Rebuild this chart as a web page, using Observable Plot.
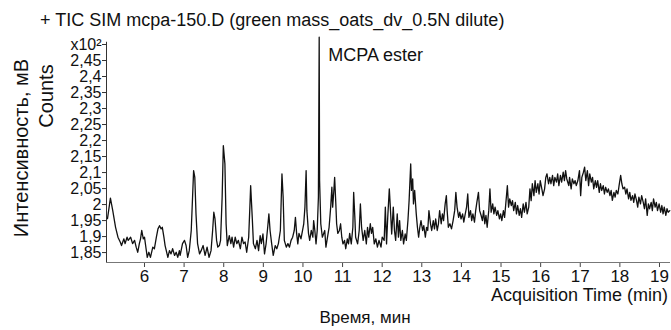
<!DOCTYPE html>
<html>
<head>
<meta charset="utf-8">
<script src="https://cdn.jsdelivr.net/npm/d3@7"></script>
<script src="https://cdn.jsdelivr.net/npm/@observablehq/plot@0.6"></script>
<style>
  html, body { margin: 0; padding: 0; background: #fff; }
  #chart { width: 671px; height: 330px; }
</style>
</head>
<body>
<div id="chart"></div>
<script>
// Acquisition time (min)
const times = [
5.066,5.14,5.20,5.27,5.33,5.39,5.42,5.48,5.51,5.56,5.59,5.65,5.70,5.75,5.79,5.83,5.87,5.90,5.93,5.97,
6.00,6.04,6.07,6.11,6.15,6.21,6.25,6.30,6.34,6.38,6.42,6.45,6.49,6.52,6.55,6.59,6.63,6.67,6.71,6.76,
6.80,6.84,6.88,6.90,6.96,7.01,7.05,7.09,7.13,7.18,7.24,7.27,7.30,7.34,7.39,7.43,7.48,7.53,7.58,7.63,
7.68,7.72,7.75,7.78,7.82,7.85,7.89,7.92,7.96,7.99,8.03,8.06,8.09,8.14,8.18,8.21,8.25,8.29,8.33,8.37,
8.42,8.46,8.50,8.54,8.58,8.63,8.66,8.68,8.72,8.75,8.80,8.84,8.88,8.92,8.95,8.99,9.03,9.07,9.11,9.14,
9.17,9.21,9.25,9.30,9.34,9.38,9.43,9.47,9.50,9.53,9.58,9.62,9.66,9.70,9.74,9.78,9.81,9.84,9.87,9.90,
9.95,9.99,10.02,10.05,10.08,10.10,10.14,10.17,10.21,10.25,10.27,10.30,10.33,10.36,10.39,10.41,10.42,10.45,10.49,10.55,
10.58,10.62,10.66,10.70,10.73,10.75,10.78,10.80,10.83,10.85,10.88,10.92,10.95,10.98,11.01,11.05,11.08,11.12,11.15,11.18,
11.22,11.26,11.28,11.31,11.33,11.38,11.42,11.45,11.48,11.52,11.56,11.60,11.63,11.66,11.70,11.73,11.76,11.80,11.84,11.88,
11.92,11.97,12.00,12.05,12.08,12.11,12.14,12.18,12.21,12.24,12.28,12.31,12.34,12.38,12.41,12.44,12.47,12.51,12.54,12.58,
12.61,12.65,12.68,12.72,12.74,12.77,12.79,12.82,12.86,12.89,12.92,12.95,12.98,13.02,13.05,13.09,13.12,13.15,13.18,13.22,
13.25,13.29,13.32,13.35,13.39,13.42,13.45,13.49,13.52,13.55,13.59,13.62,13.64,13.67,13.71,13.75,13.79,13.83,13.86,13.89,
13.93,13.96,13.99,14.03,14.06,14.09,14.13,14.16,14.19,14.23,14.26,14.29,14.33,14.36,14.39,14.43,14.46,14.50,14.53,14.56,
14.59,14.62,14.65,14.69,14.72,14.75,14.79,14.82,14.85,14.89,14.92,14.96,14.99,15.02,15.06,15.09,15.12,15.16,15.19,15.22,
15.26,15.29,15.32,15.36,15.39,15.42,15.46,15.49,15.52,15.56,15.59,15.63,15.66,15.70,15.73,15.76,15.79,15.83,15.86,15.89,
15.93,15.96,15.99,16.03,16.06,16.10,16.13,16.16,16.20,16.23,16.26,16.30,16.33,16.36,16.40,16.43,16.46,16.50,16.53,16.57,
16.60,16.63,16.66,16.71,16.73,16.77,16.80,16.84,16.87,16.90,16.94,16.98,17.01,17.04,17.08,17.11,17.14,17.18,17.21,17.24,
17.28,17.31,17.34,17.38,17.41,17.44,17.48,17.51,17.54,17.58,17.61,17.64,17.68,17.71,17.75,17.78,17.81,17.85,17.88,17.91,
17.95,17.98,18.02,18.05,18.08,18.12,18.15,18.18,18.22,18.25,18.28,18.32,18.35,18.38,18.42,18.45,18.48,18.52,18.55,18.59,
18.62,18.65,18.69,18.72,18.75,18.79,18.82,18.85,18.89,18.92,18.95,18.99,19.03,19.06,19.09,19.12,19.16,19.19,19.22,19.26
];
// Counts (x10^2)
const counts = [
1.956,2.020,1.980,1.929,1.898,1.882,1.872,1.893,1.878,1.898,1.888,1.898,1.878,1.888,1.867,1.851,1.878,1.893,1.919,1.893,
1.898,1.862,1.835,1.851,1.835,1.867,1.862,1.898,1.924,1.934,1.924,1.929,1.898,1.872,1.856,1.835,1.856,1.846,1.862,1.841,
1.851,1.835,1.856,1.841,1.878,1.888,1.872,1.835,1.856,1.919,2.106,2.085,1.971,1.878,1.846,1.856,1.872,1.841,1.867,1.835,
1.856,1.919,1.976,1.955,1.888,1.867,1.872,1.888,2.023,2.184,2.127,1.940,1.872,1.903,1.878,1.898,1.867,1.898,1.878,1.888,
1.862,1.898,1.878,1.883,1.851,1.898,1.992,2.059,1.960,1.878,1.862,1.888,1.856,1.903,1.878,1.908,1.846,1.878,1.929,1.971,
1.919,1.878,1.841,1.872,1.862,1.878,1.919,2.096,2.023,1.888,1.867,1.878,1.867,1.888,1.898,1.919,1.960,1.910,1.877,1.910,
1.893,1.919,1.940,1.992,2.106,1.981,1.910,1.888,1.919,1.898,1.950,1.919,1.877,1.919,2.023,2.523,2.075,1.940,1.898,1.919,
1.867,1.898,1.929,1.992,2.054,1.992,2.044,2.085,2.002,1.940,1.910,1.919,1.940,1.898,1.877,1.888,1.862,1.893,1.877,1.910,
1.877,1.929,2.038,1.960,1.898,1.877,1.919,2.002,1.929,1.888,1.919,1.877,1.929,1.898,1.940,1.910,1.929,1.877,1.893,1.867,
1.888,1.867,1.898,1.888,1.992,1.877,1.960,2.049,1.981,1.908,1.992,1.919,1.888,1.971,1.898,1.950,1.888,1.919,1.877,1.908,
1.888,1.950,2.013,2.127,2.044,2.080,2.002,2.044,1.971,1.929,1.898,1.929,1.950,1.919,1.934,1.898,1.929,1.919,1.981,1.940,
1.919,1.950,1.924,1.955,1.919,1.940,1.981,1.940,1.971,1.950,2.002,2.028,1.981,1.929,1.940,1.924,1.950,1.981,2.038,1.992,
1.960,1.976,1.955,1.971,1.945,1.966,1.992,2.033,1.960,1.981,1.950,1.971,1.945,1.981,2.007,2.038,1.981,1.965,1.950,1.981,
1.940,1.966,1.929,1.981,2.049,1.976,2.002,1.971,1.992,1.966,1.981,1.955,1.971,1.950,1.981,1.960,2.002,2.059,1.992,2.018,
1.997,2.012,1.981,2.007,1.971,1.997,1.966,1.987,1.960,2.002,1.976,2.007,1.971,1.992,2.049,2.012,2.065,2.028,2.075,2.038,
2.065,2.033,2.075,2.049,2.028,2.049,2.085,2.096,2.065,2.085,2.065,2.091,2.059,2.085,2.070,2.096,2.059,2.091,2.070,2.101,
2.075,2.106,2.080,2.059,2.085,2.049,2.080,2.065,2.075,2.059,2.075,2.106,2.028,2.085,2.101,2.117,2.075,2.106,2.059,2.096,
2.070,2.085,2.049,2.075,2.054,2.075,2.038,2.065,2.044,2.059,2.033,2.054,2.038,2.049,2.028,2.044,2.013,2.038,2.023,2.044,
2.033,2.059,2.091,2.065,2.049,2.054,2.033,2.049,2.018,2.038,2.013,2.028,2.007,2.033,2.013,1.992,2.023,2.002,2.028,2.007,
1.987,2.018,1.966,2.002,1.987,2.007,1.981,2.018,1.992,2.007,1.981,2.002,1.976,1.997,1.971,1.992,1.966,1.987,1.976,1.981
];
const xTicks = [6,7,8,9,10,11,12,13,14,15,16,17,18,19];
const yTicks = [1.85,1.9,1.95,2,2.05,2.1,2.15,2.2,2.25,2.3,2.35,2.4,2.45,2.5];
const yTickLabels = ["1,85","1,9","1,95","2","2,05","2,1","2,15","2,2","2,25","2,3","2,35","2,4","2,45","x10²"];
const xDomain = [5.041, 19.278];
const yDomain = [1.819, 2.5];
const annotation = {label: "MCPA ester", t: 10.64, v: 2.468};

const data = times.map((t, i) => ({t, v: counts[i]}));
const font = "'Liberation Sans', Arial, sans-serif";

const svg = Plot.plot({
  width: 671,
  height: 330,
  marginLeft: 106,
  marginRight: 1,
  marginTop: 44,
  marginBottom: 68,
  style: {fontFamily: font, background: "#fff", color: "#111", overflow: "visible"},
  x: {domain: xDomain},
  y: {domain: yDomain},
  marks: [
    Plot.axisX({ticks: xTicks, tickSize: 5, tickPadding: 2, fontSize: 17, label: null, stroke: "#444"}),
    Plot.axisY({ticks: yTicks, tickFormat: d => yTickLabels[yTicks.indexOf(d)], tickSize: 4, tickPadding: 1, fontSize: 16, label: null, stroke: "#333"}),
    Plot.ruleX([xDomain[0]], {y1: yDomain[0], y2: 2.507, stroke: "#333", strokeWidth: 1}),
    Plot.ruleY([yDomain[0]], {stroke: "#777", strokeWidth: 1.2}),
    Plot.line(data, {x: "t", y: "v", stroke: "#111", strokeWidth: 1.3, clip: false}),
    Plot.text([annotation], {x: "t", y: "v", text: "label", textAnchor: "start", fontSize: 18, fill: "#111"})
  ]
});

const s = d3.select(svg);
s.append("text").attr("x", 40).attr("y", 26).attr("text-anchor", "start").attr("font-size", 18).attr("fill", "#111")
  .attr("font-family", font).text("+ TIC SIM mcpa-150.D (green mass_oats_dv_0.5N dilute)");
s.append("text").attr("transform", "translate(46,96) rotate(-90)").attr("text-anchor", "middle")
  .attr("dominant-baseline", "central").attr("font-size", 20).attr("fill", "#111")
  .attr("font-family", font).text("Counts");
s.append("text").attr("transform", "translate(21,148) rotate(-90)").attr("text-anchor", "middle")
  .attr("dominant-baseline", "central").attr("font-size", 20).attr("fill", "#111")
  .attr("font-family", font).text("Интенсивность, мВ");
s.append("text").attr("x", 668).attr("y", 301).attr("text-anchor", "end").attr("font-size", 18)
  .attr("fill", "#111").attr("font-family", font).text("Acquisition Time (min)");
s.append("text").attr("x", 365).attr("y", 323).attr("text-anchor", "middle").attr("font-size", 17)
  .attr("fill", "#111").attr("font-family", font).text("Время, мин");

document.getElementById("chart").appendChild(svg);
</script>
</body>
</html>
